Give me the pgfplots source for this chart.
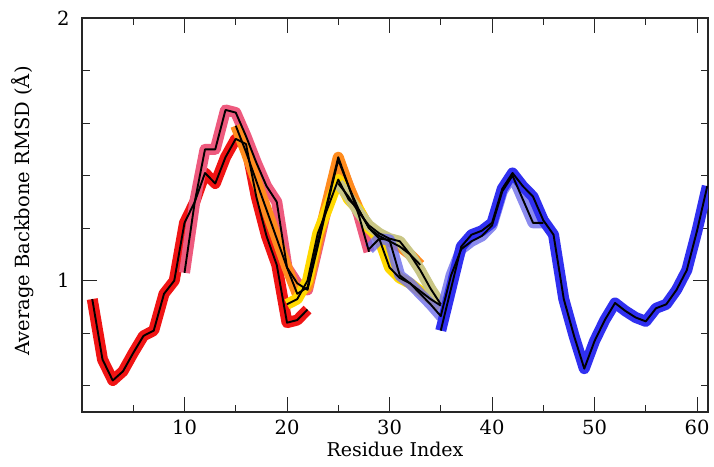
\documentclass[border=0pt]{standalone}
\usepackage{fontspec}
\setmainfont{DejaVu Serif}
\usepackage{pgfplots}
\usepackage{pgfplotstable}
\pgfplotsset{compat=1.18}

\definecolor{cred}{HTML}{F01414}
\definecolor{cpink}{HTML}{EE5A7E}
\definecolor{corange}{HTML}{FF8C1E}
\definecolor{cyellow}{HTML}{FFD800}
\definecolor{ckhaki}{HTML}{C9C685}
\definecolor{clav}{HTML}{6E6EEA}
\definecolor{cblue}{HTML}{3030F0}

\pgfplotstableread{
x y
1 0.93
2 0.70
3 0.62
4 0.655
5 0.725
6 0.79
7 0.81
8 0.95
9 1.00
10 1.22
11 1.30
12 1.41
13 1.37
14 1.47
15 1.54
16 1.52
17 1.32
18 1.17
19 1.06
20 0.84
21 0.85
22 0.89
}\tred

\pgfplotstableread{
x y
10 1.03
11 1.30
12 1.50
13 1.50
14 1.65
15 1.64
16 1.55
17 1.45
18 1.36
19 1.30
20 1.05
21 0.99
22 0.965
23 1.13
24 1.30
25 1.46
26 1.36
27 1.25
28 1.11
}\tpink

\pgfplotstableread{
x y
15 1.59
16 1.49
17 1.38
18 1.27
19 1.16
20 1.05
21 0.95
22 0.975
23 1.15
24 1.31
25 1.47
26 1.36
27 1.27
28 1.20
29 1.17
30 1.15
31 1.13
32 1.10
33 1.06
}\torange

\pgfplotstableread{
x y
20 0.91
21 0.93
22 1.00
23 1.18
24 1.28
25 1.385
26 1.31
27 1.27
28 1.20
29 1.16
30 1.05
31 1.01
32 0.99
33 0.96
34 0.93
35 0.905
}\tyellow

\pgfplotstableread{
x y
25 1.37
26 1.32
27 1.26
28 1.21
29 1.18
30 1.16
31 1.15
32 1.10
33 1.04
34 0.97
35 0.91
}\tkhaki

\pgfplotstableread{
x y
28 1.12
29 1.16
30 1.155
31 1.02
32 0.99
33 0.95
34 0.91
35 0.865
36 1.02
37 1.12
38 1.15
39 1.17
40 1.21
41 1.34
42 1.40
43 1.31
44 1.22
45 1.22
}\tlav

\pgfplotstableread{
x y
35 0.81
36 0.97
37 1.13
38 1.175
39 1.19
40 1.22
41 1.35
42 1.41
43 1.36
44 1.32
45 1.23
46 1.175
47 0.93
48 0.79
49 0.665
50 0.77
51 0.85
52 0.915
53 0.885
54 0.86
55 0.845
56 0.895
57 0.91
58 0.965
59 1.04
60 1.19
61 1.36
}\tblue

\begin{document}
\begin{tikzpicture}
\begin{axis}[
  scale only axis, width=626pt, height=394pt,
  xmin=0, xmax=61.07, ymin=0.5, ymax=2,
  xtick={10,20,...,60}, minor xtick={5,15,...,55},
  ytick={1,2}, minor ytick={0.6,0.8,1.2,1.4,1.6,1.8},
  tick align=inside, major tick length=15pt, minor tick length=7.5pt,
  every tick/.style={black!85, line width=1pt},
  axis line style={black!85, line width=1.8pt},
  /pgf/number format/assume math mode=true,
  ticklabel style={font=\fontsize{19.5}{20}\selectfont},
  xticklabel style={yshift=-4pt},
  yticklabel style={xshift=-9pt},
  xlabel={Residue Index}, ylabel={Average Backbone RMSD (Å)},
  xlabel style={at={(axis description cs:0.5,-0.076)}, anchor=north, inner sep=0pt,
    font=\fontsize{19}{20}\selectfont},
  ylabel style={at={(axis description cs:-0.0955,0.51)}, anchor=center, inner sep=0pt,
    font=\fontsize{19.5}{20}\selectfont},
  colband/.style={no markers, line width=11pt, line join=round},
  blk/.style={no markers, black, line width=1.9pt, line join=round},
]
\addplot[colband, cred] table[x=x,y=y]{\tred};
\addplot[colband, cpink] table[x=x,y=y]{\tpink};
\addplot[colband, corange] table[x=x,y=y]{\torange};
\addplot[colband, cyellow] table[x=x,y=y]{\tyellow};
\addplot[colband, ckhaki] table[x=x,y=y]{\tkhaki};
\addplot[colband, clav, opacity=0.8] table[x=x,y=y]{\tlav};
\addplot[colband, cblue] table[x=x,y=y]{\tblue};
\addplot[blk] table[x=x,y=y]{\tred};
\addplot[blk] table[x=x,y=y]{\tpink};
\addplot[blk] table[x=x,y=y]{\torange};
\addplot[blk] table[x=x,y=y]{\tyellow};
\addplot[blk] table[x=x,y=y]{\tkhaki};
\addplot[blk] table[x=x,y=y]{\tlav};
\addplot[blk] table[x=x,y=y]{\tblue};
\end{axis}
\path (current axis.south west) ++(-82pt,-54pt) rectangle ++(714pt,466pt);
\end{tikzpicture}
\end{document}
